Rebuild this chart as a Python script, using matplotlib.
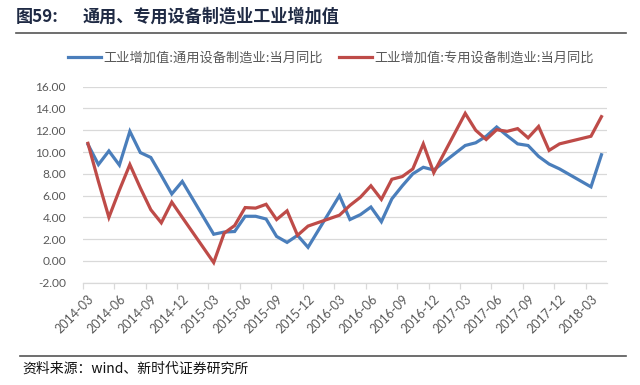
import numpy as np
import pandas as pd
import matplotlib
matplotlib.use('Agg')
import matplotlib.pyplot as plt

CJK = ['Noto Sans CJK SC', 'DejaVu Sans']
plt.rcParams['font.family'] = CJK

# ---------------- data ----------------
months = [p.strftime('%Y-%m') for p in pd.period_range('2014-03', '2018-04', freq='M')]

general_equipment = [  # 工业增加值:通用设备制造业:当月同比
    10.7, 8.85, 10.1, 8.8, 11.9, 9.95, 9.5, 7.85, 6.15, 7.3,
    np.nan, np.nan, 2.45, 2.65, 2.7, 4.1, 4.1, 3.85, 2.25, 1.7,
    2.35, 1.25, np.nan, np.nan, 6.0, 3.8, 4.25, 4.95, 3.6, 5.7,
    6.9, 8.0, 8.6, 8.35, np.nan, np.nan, 10.6, 10.85, 11.45, 12.3,
    11.5, 10.75, 10.6, 9.6, 8.9, 8.45, np.nan, np.nan, 6.8, 9.75]

special_equipment = [  # 工业增加值:专用设备制造业:当月同比
    10.8, 7.3, 4.0, 6.5, 8.85, 6.7, 4.7, 3.5, 5.4, 4.0,
    np.nan, np.nan, -0.15, 2.55, 3.25, 4.9, 4.85, 5.2, 3.8, 4.6,
    2.35, 3.2, np.nan, np.nan, 4.2, 5.1, 5.85, 6.9, 5.65, 7.5,
    7.75, 8.45, 10.75, 8.1, np.nan, np.nan, 13.55, 12.0, 11.15, 12.05,
    11.9, 12.15, 11.3, 12.35, 10.15, 10.75, np.nan, np.nan, 11.45, 13.25]

series_names = ['工业增加值:通用设备制造业:当月同比', '工业增加值:专用设备制造业:当月同比']
tick_labels = ['2014-03', '2014-06', '2014-09', '2014-12', '2015-03', '2015-06',
               '2015-09', '2015-12', '2016-03', '2016-06', '2016-09', '2016-12',
               '2017-03', '2017-06', '2017-09', '2017-12', '2018-03']
y_ticks = [-2, 0, 2, 4, 6, 8, 10, 12, 14, 16]

title_num = '图59:'
title_text = '通用、专用设备制造业工业增加值'
source_text = '资料来源：wind、新时代证券研究所'

colors = ['#4A7EBB', '#BE4B48']

# ---------------- figure ----------------
W, H = 640, 385
fig = plt.figure(figsize=(W / 100, H / 100), dpi=100)
fig.patch.set_facecolor('white')

ax = fig.add_axes([82.7 / W, 1 - 282.7 / H, (606.7 - 82.7) / W, (282.7 - 86.7) / H])

x = np.arange(len(months))
for vals, c, name in zip([general_equipment, special_equipment], colors, series_names):
    v = np.array(vals, dtype=float)
    m = ~np.isnan(v)
    ax.plot(x[m], v[m], color=c, lw=2.3, label=name, solid_joinstyle='miter', zorder=3)

ax.set_xlim(-0.5, len(months) - 0.5)
ax.set_ylim(-2, 16)
ax.set_yticks(y_ticks)
ax.set_yticklabels([f'{t:.2f}' for t in y_ticks], fontsize=8.6, color='#595959',
                   family=['Lato', 'DejaVu Sans'])
ax.tick_params(axis='y', length=0, pad=12)
ax.grid(axis='y', color='#D9D9D9', lw=0.9, zorder=0)

# tick marks at category boundaries every 3 months
ax.set_xticks(np.arange(-0.5, len(months) - 0.5, 3))
ax.set_xticklabels([])
ax.tick_params(axis='x', which='major', length=4.5, color='#D9D9D9', width=0.9, direction='out')
# labels at category centres
label_pos = [months.index(t) for t in tick_labels]
ax.set_xticks(label_pos, minor=True)
ax.set_xticklabels(tick_labels, minor=True, rotation=45, ha='right', rotation_mode='anchor',
                   fontsize=9, color='#595959', family=['Lato', 'DejaVu Sans'])
ax.tick_params(axis='x', which='minor', length=0, pad=7)

for s in ['left', 'right', 'top']:
    ax.spines[s].set_visible(False)
ax.spines['bottom'].set_color('#D9D9D9')
ax.spines['bottom'].set_linewidth(0.9)

# legend
fig.legend(loc='center left', bbox_to_anchor=(68 / W, 1 - 58 / H), ncol=2, frameon=False,
           fontsize=9.5, handlelength=2.5, handletextpad=0.2, columnspacing=1.2,
           labelcolor='#595959', borderaxespad=0, borderpad=0)

# title & rules
fig.text(16 / W, 1 - 17 / H, title_num, fontsize=12.3, fontweight='bold', color='#1F2A44',
         va='center', ha='left')
fig.text(83 / W, 1 - 17 / H, title_text, fontsize=12.3, fontweight='bold', color='#1F2A44',
         va='center', ha='left')
fig.add_artist(plt.Line2D([16 / W, 626 / W], [1 - 33 / H, 1 - 33 / H], color='#555555', lw=1.2))
fig.add_artist(plt.Line2D([20 / W, 626 / W], [1 - 356 / H, 1 - 356 / H], color='#555555', lw=1.2))
fig.text(22 / W, 1 - 369 / H, source_text, fontsize=10, color='#111111', va='center', ha='left')

fig.savefig('out.png', dpi=100, facecolor='white')
